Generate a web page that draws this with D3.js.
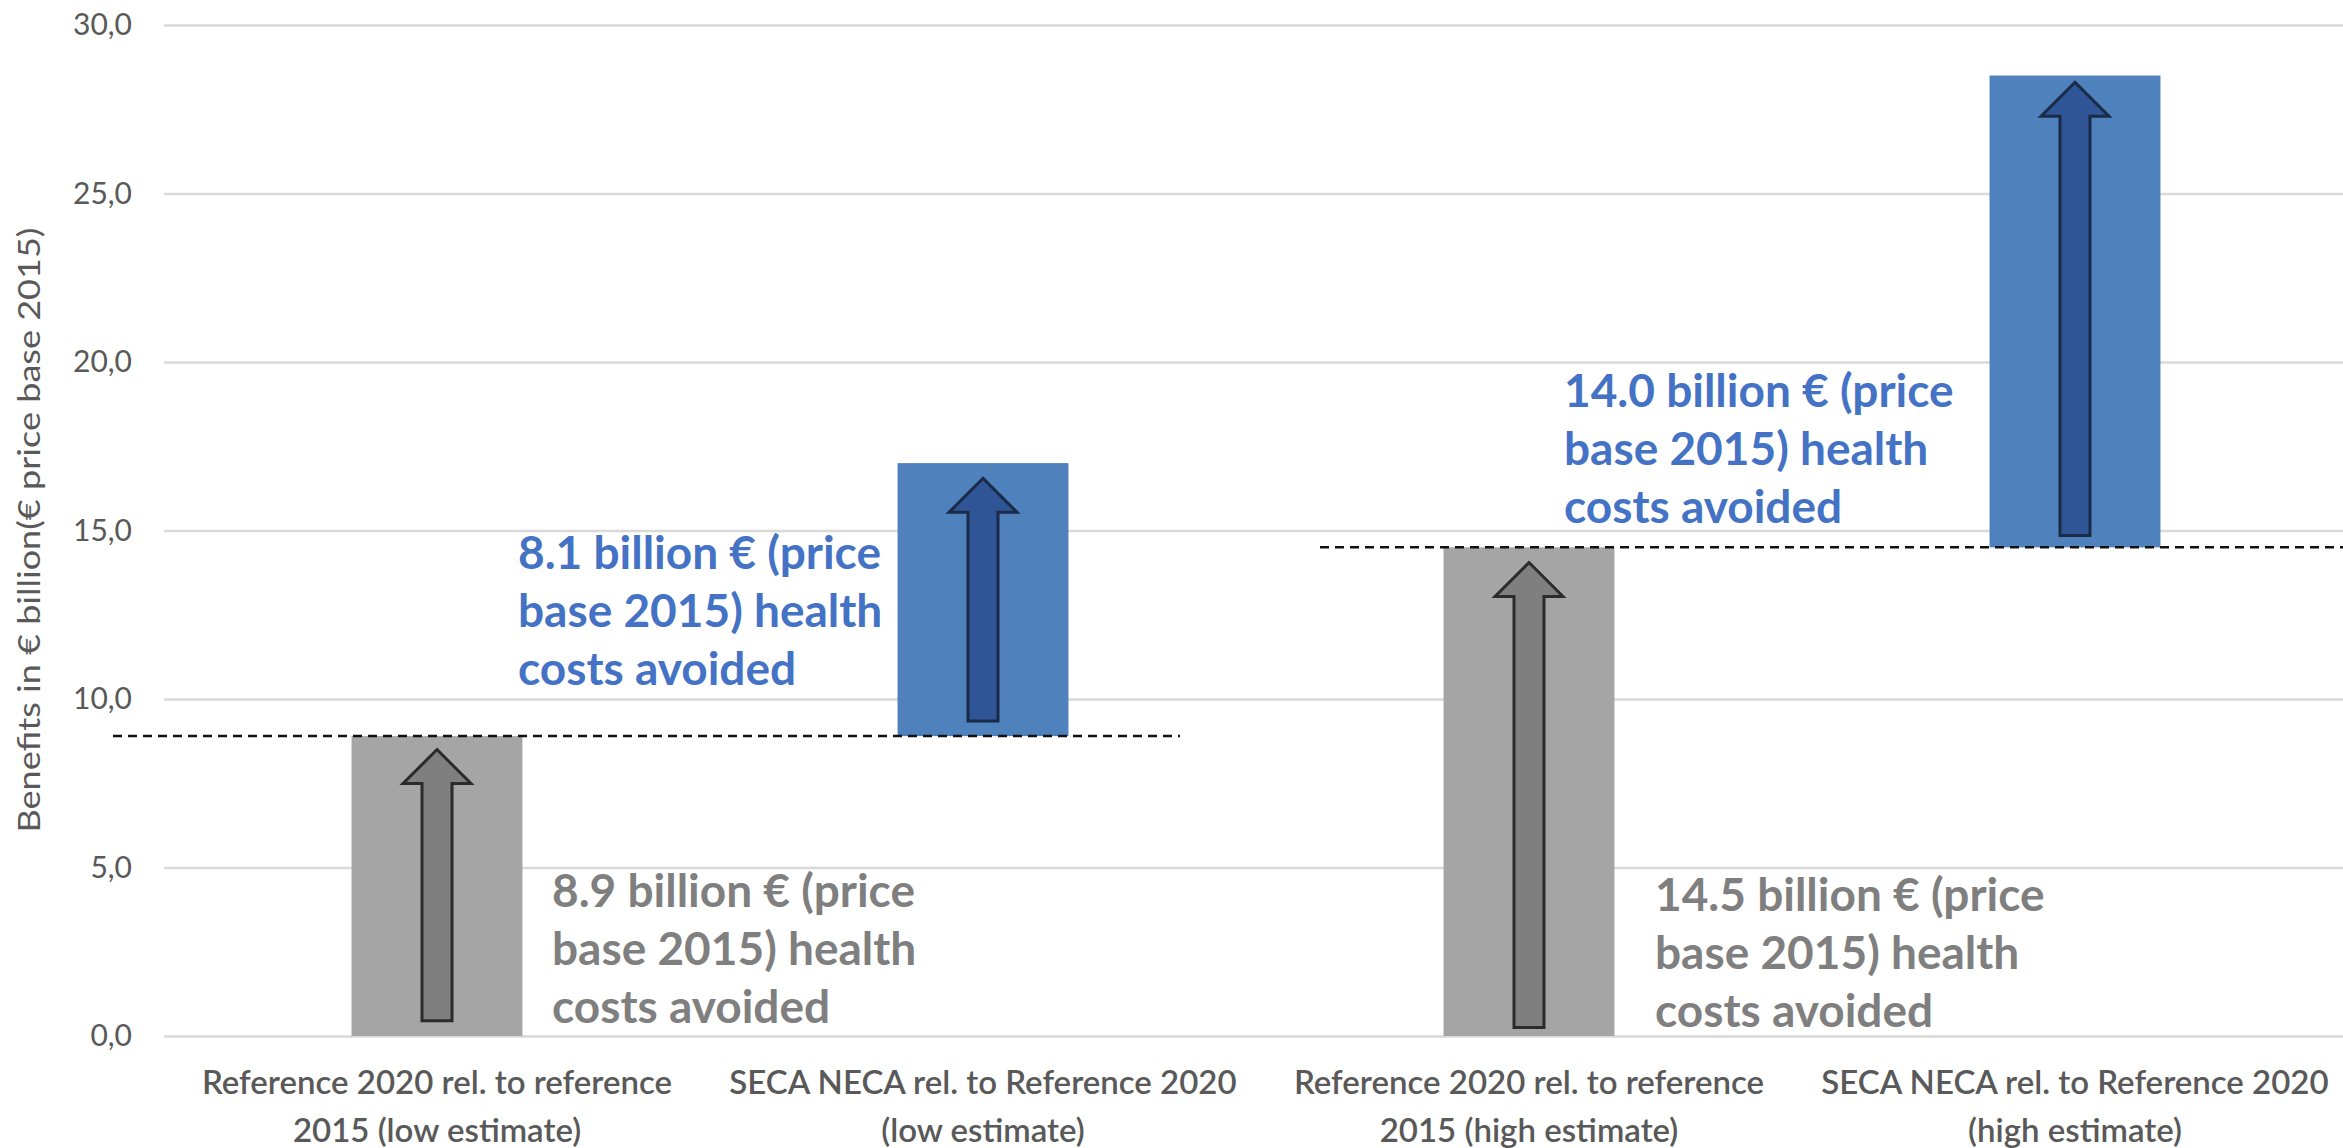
<!DOCTYPE html>
<html>
<head>
<meta charset="utf-8">
<script src="https://cdn.jsdelivr.net/npm/d3@7"></script>
<style>
  body { margin: 0; background: #fff; }
  text { font-family: Lato, "Noto Sans", sans-serif; }
</style>
</head>
<body>
<div id="chart"></div>
<script>
// Chart data
const categories = [
  ["Reference 2020 rel. to reference", "2015 (low estimate)"],
  ["SECA NECA rel. to Reference 2020", "(low estimate)"],
  ["Reference 2020 rel. to reference", "2015 (high estimate)"],
  ["SECA NECA rel. to Reference 2020", "(high estimate)"]
];
const barBase = [0, 8.9, 0, 14.5];
const barValue = [8.9, 8.1, 14.5, 14.0];
const barKind = ["ref", "seca", "ref", "seca"];
const arrowFrom = [0.45, 9.35, 0.25, 14.85];
const arrowTo = [8.5, 16.55, 14.05, 28.3];
const levelLines = [8.9, 14.5];
const yTicks = [0, 5, 10, 15, 20, 25, 30];
const notes = [
  ["8.9 billion € (price", "base 2015) health", "costs avoided"],
  ["8.1 billion € (price", "base 2015) health", "costs avoided"],
  ["14.5 billion € (price", "base 2015) health", "costs avoided"],
  ["14.0 billion € (price", "base 2015) health", "costs avoided"]
];
const yTitle = "Benefits in € billion(€ price base 2015)";

const width = 2343, height = 1148;

const colors = {
  ref: { bar: "#a5a5a5", arrow: "#7f7f7f", stroke: "#2b2b2b", text: "#7f7f7f" },
  seca: { bar: "#4f81bd", arrow: "#2f5597", stroke: "#1b2a47", text: "#4472c4" }
};

let svg = d3.select("#chart")
  .append("svg")
  .attr("width", width)
  .attr("height", height);

// scales
let x = d3.scaleBand()
  .domain(d3.range(categories.length))
  .range([164, 2348])
  .paddingInner(0.687)
  .paddingOuter(0.3435);

let y = d3.scaleLinear()
  .domain([0, 30])
  .range([1036, 25]);

// gridlines + y axis
let yAxis = svg.append("g")
  .attr("transform", "translate(164,0)")
  .call(d3.axisLeft(y)
    .tickValues(yTicks)
    .tickSize(-(width - 164))
    .tickPadding(32)
    .tickFormat(d => d.toFixed(1).replace(".", ",")));

yAxis.select(".domain").remove();
yAxis.selectAll(".tick line")
  .attr("stroke", "#d9d9d9")
  .attr("stroke-width", 2.5);
yAxis.selectAll(".tick text")
  .attr("fill", "#595959")
  .style("font-size", "30px");

// y axis title
svg.append("text")
  .attr("transform", "translate(40,530) rotate(-90)")
  .attr("text-anchor", "middle")
  .attr("fill", "#595959")
  .attr("textLength", 605)
  .attr("lengthAdjust", "spacingAndGlyphs")
  .style("font-size", "30px")
  .text(yTitle);

// bars
svg.append("g")
  .selectAll("rect")
  .data(barValue)
  .enter()
  .append("rect")
  .attr("x", (d, i) => x(i))
  .attr("width", x.bandwidth())
  .attr("y", (d, i) => y(barBase[i] + d))
  .attr("height", (d, i) => y(barBase[i]) - y(barBase[i] + d))
  .attr("fill", (d, i) => colors[barKind[i]].bar);

// dashed level lines
let levelSpan = [[113, 1180], [1320, width]];
svg.append("g")
  .selectAll("line")
  .data(levelLines)
  .enter()
  .append("line")
  .attr("x1", (d, i) => levelSpan[i][0])
  .attr("x2", (d, i) => levelSpan[i][1])
  .attr("y1", d => y(d))
  .attr("y2", d => y(d))
  .attr("stroke", "#111")
  .attr("stroke-width", 2.5)
  .attr("stroke-dasharray", "9,6");

// block arrows
let arrowPath = function (i) {
  let cx = x(i) + x.bandwidth() / 2;
  let top = y(arrowTo[i]), bottom = y(arrowFrom[i]);
  let hw = 34, sw = 15, hh = 34;
  return "M" + cx + "," + top +
    "L" + (cx + hw) + "," + (top + hh) +
    "L" + (cx + sw) + "," + (top + hh) +
    "L" + (cx + sw) + "," + bottom +
    "L" + (cx - sw) + "," + bottom +
    "L" + (cx - sw) + "," + (top + hh) +
    "L" + (cx - hw) + "," + (top + hh) + "Z";
};

svg.append("g")
  .selectAll("path")
  .data(arrowTo)
  .enter()
  .append("path")
  .attr("d", (d, i) => arrowPath(i))
  .attr("fill", (d, i) => colors[barKind[i]].arrow)
  .attr("stroke", (d, i) => colors[barKind[i]].stroke)
  .attr("stroke-width", 3)
  .attr("stroke-linejoin", "miter");

// annotations
let notePos = [[552, 907], [518, 569], [1655, 911], [1564, 407]];
notes.forEach((lines, i) => {
  let t = svg.append("text")
    .attr("x", notePos[i][0])
    .attr("y", notePos[i][1])
    .attr("fill", colors[barKind[i]].text)
    .style("font-size", "46px")
    .style("font-weight", "bold");
  lines.forEach((s, k) => {
    t.append("tspan")
      .attr("x", notePos[i][0])
      .attr("dy", k === 0 ? 0 : 58)
      .text(s);
  });
});

// category labels
svg.append("g")
  .selectAll("text")
  .data(categories)
  .enter()
  .append("text")
  .attr("text-anchor", "middle")
  .attr("fill", "#595959")
  .style("font-size", "33px")
  .style("font-weight", "600")
  .each(function (d, i) {
    let cx = x(i) + x.bandwidth() / 2;
    d3.select(this).selectAll("tspan")
      .data(d)
      .enter()
      .append("tspan")
      .attr("x", cx)
      .attr("y", (s, k) => 1094 + k * 48)
      .text(s => s);
  });
</script>
</body>
</html>
